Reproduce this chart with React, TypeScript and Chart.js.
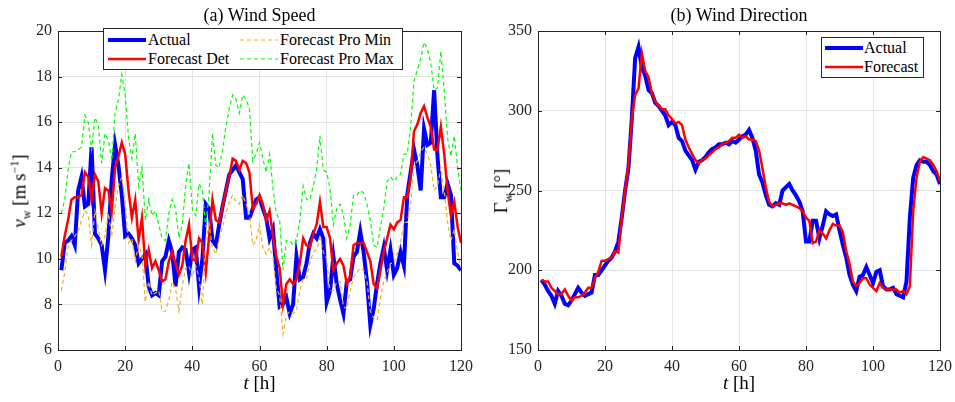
import React, { useEffect, useRef } from "react";
import { Chart, registerables } from "chart.js";

Chart.register(...registerables);

const hours: number[] = Array.from({ length: 120 }, (_, i) => i + 1);

const speedActual = [9.5,10.7,10.8,11.0,10.6,13.0,13.6,12.3,12.4,14.9,
11.1,10.9,10.6,9.5,11.0,13.5,15.0,14.1,12.8,11.0,
11.1,10.9,10.6,9.8,10.0,10.2,8.8,8.4,8.5,8.4,
9.9,10.1,10.8,10.3,8.8,10.3,10.5,10.4,9.4,10.4,
10.5,8.8,10.0,12.4,12.2,10.8,10.6,11.5,12.3,13.0,
13.7,13.9,14.1,13.8,13.5,11.8,11.8,12.2,12.6,12.7,
12.2,11.8,10.9,11.3,9.5,7.9,8.0,8.3,7.6,8.0,
10.1,9.1,9.2,9.8,10.7,11.1,10.9,11.3,10.9,8.1,
8.6,10.1,8.9,8.2,7.6,9.0,9.1,10.1,10.3,11.2,
10.3,9.0,7.1,7.8,8.9,9.8,10.5,9.5,10.4,9.3,
9.6,10.3,9.7,12.8,13.8,14.8,14.1,13.0,15.7,15.0,
15.1,17.4,14.5,12.7,12.7,13.3,12.8,9.8,9.7,9.5];

const speedDet = [10.1,11.0,11.7,12.6,12.7,12.7,12.8,13.8,13.6,12.6,
13.7,13.4,12.0,13.1,13.0,12.1,14.0,14.5,15.1,14.6,
13.0,11.8,12.6,10.8,11.8,9.7,10.4,9.6,9.9,9.5,
9.0,9.1,9.9,10.3,9.8,9.3,9.7,10.8,11.5,10.0,
9.9,10.9,10.7,9.4,11.0,12.6,11.7,11.6,12.3,13.0,
13.6,14.4,14.3,13.9,14.3,14.2,13.8,12.2,12.4,12.8,
12.4,11.7,12.1,11.0,10.1,9.6,8.0,8.9,9.1,8.9,
9.1,9.8,10.9,10.6,10.5,11.1,11.5,12.5,11.4,11.4,
10.9,9.5,9.8,10.0,9.7,8.9,9.2,10.6,10.7,10.7,
10.7,10.3,9.9,8.9,8.7,9.5,10.3,10.9,11.5,11.3,
11.6,11.7,12.7,12.7,13.6,15.6,15.9,16.4,16.7,16.2,
15.8,14.8,14.8,15.8,14.6,13.0,11.9,12.5,11.4,10.7];

const speedProMin = [8.6,9.4,10.5,10.8,11.0,11.2,11.7,12.1,11.9,10.6,
12.1,11.3,10.6,11.0,12.0,11.0,12.3,13.2,13.6,12.5,
10.7,10.9,9.9,10.6,10.2,8.1,9.0,8.4,8.5,8.6,
7.7,7.7,8.2,9.0,8.7,7.7,8.8,9.6,9.7,9.2,
9.7,9.2,8.0,10.8,11.5,10.5,10.2,10.9,11.4,12.0,
12.5,12.8,12.5,12.4,12.8,12.4,12.0,10.6,10.8,11.5,
10.5,10.2,10.5,10.1,8.7,8.4,6.7,7.5,7.7,7.6,
7.7,8.6,9.1,9.1,9.8,10.3,10.4,10.9,10.3,10.0,
8.6,8.6,9.0,9.0,7.9,7.8,8.6,9.2,9.4,9.6,
9.5,9.0,7.7,7.4,7.3,8.3,9.0,9.4,9.8,9.8,
10.2,10.7,11.6,11.6,12.4,14.1,14.3,14.7,14.9,14.6,
14.1,13.0,13.2,14.0,13.0,11.6,10.8,11.3,10.3,9.6];

const speedProMax = [12.0,12.6,13.9,14.7,14.7,14.8,14.9,16.3,16.0,14.8,
16.2,15.9,14.2,15.5,15.2,14.3,16.4,17.0,18.1,17.2,
15.3,14.4,15.5,13.2,14.0,11.7,12.6,11.9,12.1,11.5,
10.9,10.8,12.0,12.6,12.2,10.9,11.5,13.2,14.2,12.2,
11.9,13.3,13.0,11.4,12.9,15.5,14.1,14.0,14.8,15.8,
16.6,17.2,17.0,16.4,17.2,17.0,16.6,14.3,14.6,15.1,
14.4,13.8,14.6,13.1,12.0,11.7,9.5,10.8,10.8,10.6,
10.8,11.7,13.2,12.6,12.6,13.2,13.9,15.4,13.9,13.8,
13.1,11.5,12.2,12.4,11.9,10.9,11.5,12.8,12.8,13.0,
12.9,12.4,11.7,10.6,10.5,11.4,12.2,13.4,13.6,13.4,
13.6,13.7,14.6,14.6,15.8,17.8,18.3,18.8,19.5,19.2,
18.6,17.4,17.5,19.1,17.4,15.3,14.5,15.4,14.0,13.0];

const dirActual = [194,191,187,184,179,187,184,179,178,181,
185,189,186,184,185,186,197,197,200,203,
206,208,212,218,233,250,264,295,333,340,
327,322,313,311,305,303,300,297,291,293,
291,283,281,275,272,269,263,268,269,271,
274,276,277,279,279,280,279,281,280,282,
284,285,288,283,275,260,255,247,241,240,
242,241,250,252,254,250,247,243,237,218,
218,231,231,220,228,237,235,234,235,225,
216,208,197,191,187,196,197,202,197,192,
199,200,190,188,188,189,185,184,183,193,
233,258,266,269,268,268,266,262,260,254];

const dirForecast = [194,193,193,189,187,185,185,188,184,181,
183,183,184,186,189,189,195,199,206,206,
207,208,212,211,233,250,266,295,310,314,
336,325,321,311,306,303,301,301,297,295,
292,293,291,282,277,273,269,267,269,270,
272,274,276,277,279,280,281,283,283,285,
283,284,282,282,281,275,264,252,243,240,
241,242,242,241,242,241,240,239,237,233,
231,217,218,225,223,220,225,229,228,228,
224,212,204,193,190,192,195,195,191,189,
187,192,189,188,188,188,188,186,187,185,
190,237,258,268,271,270,269,266,262,256];

const speedTicks = [6, 8, 10, 12, 14, 16, 18, 20];
const dirTicks = [150, 200, 250, 300, 350];
const timeTicks = [0, 20, 40, 60, 80, 100, 120];

const FONT = "'Liberation Serif', 'DejaVu Serif', serif";
const AXIS = "#262626";
const GRID = "#e3e3e3";

const toXY = (vals: number[]) => vals.map((v, i) => ({ x: hours[i], y: v }));

const framePlugin = {
  id: "frame",
  afterDraw(chart: any) {
    const { ctx, chartArea } = chart;
    const { left, right, top, bottom } = chartArea;
    const xs = chart.scales.x;
    const ys = chart.scales.y;
    ctx.save();
    ctx.strokeStyle = AXIS;
    ctx.lineWidth = 1;
    ctx.strokeRect(Math.round(left) + 0.5, Math.round(top) + 0.5, Math.round(right - left), Math.round(bottom - top));
    ctx.beginPath();
    const tl = 4;
    xs.ticks.forEach((t: any) => {
      const px = Math.round(xs.getPixelForValue(t.value)) + 0.5;
      ctx.moveTo(px, bottom);
      ctx.lineTo(px, bottom - tl);
      ctx.moveTo(px, top);
      ctx.lineTo(px, top + tl);
    });
    ys.ticks.forEach((t: any) => {
      const py = Math.round(ys.getPixelForValue(t.value)) + 0.5;
      ctx.moveTo(left, py);
      ctx.lineTo(left + tl, py);
      ctx.moveTo(right, py);
      ctx.lineTo(right - tl, py);
    });
    ctx.stroke();
    ctx.restore();
  },
};

function makeOptions(ymin: number, ymax: number, ytickVals: number[], padRight: number): any {
  return {
    responsive: false,
    animation: false,
    layout: { padding: { top: 31, right: padRight, left: 0, bottom: 0 } },
    plugins: { legend: { display: false }, tooltip: { enabled: false }, title: { display: false } },
    elements: { point: { radius: 0 }, line: { tension: 0 } },
    scales: {
      x: {
        type: "linear",
        min: 0,
        max: 120,
        afterBuildTicks: (s: any) => { s.ticks = timeTicks.map((v) => ({ value: v })); },
        afterFit: (s: any) => { s.height = 52; s.paddingLeft = 0; s.paddingRight = 0; },
        ticks: { color: AXIS, font: { family: FONT, size: 16 }, padding: 7, maxRotation: 0 },
        grid: { color: GRID, drawTicks: false },
        border: { display: false },
      },
      y: {
        type: "linear",
        min: ymin,
        max: ymax,
        afterBuildTicks: (s: any) => { s.ticks = ytickVals.map((v) => ({ value: v })); },
        afterFit: (s: any) => { s.width = 58; s.paddingTop = 0; s.paddingBottom = 0; },
        ticks: { color: AXIS, font: { family: FONT, size: 16 }, padding: 6 },
        grid: { color: GRID, drawTicks: false },
        border: { display: false },
      },
    },
  };
}

const abs = (x: number, y: number, extra: any = {}): any => ({
  position: "absolute",
  left: x,
  top: y,
  transform: "translate(-50%, -50%)",
  whiteSpace: "nowrap",
  color: "#000",
  ...extra,
});

function Sample({ color, width, dash }: { color: string; width: number; dash?: string }) {
  return (
    <svg width={38} height={8} style={{ display: "block" }}>
      <line x1={0} y1={4} x2={38} y2={4} stroke={color} strokeWidth={width} strokeDasharray={dash} />
    </svg>
  );
}

export default function App() {
  const leftRef = useRef<HTMLCanvasElement>(null);
  const rightRef = useRef<HTMLCanvasElement>(null);

  useEffect(() => {
    let cancelled = false;
    let c1: Chart | null = null;
    let c2: Chart | null = null;
    const build = () => {
      if (cancelled) return;
      c1 = new Chart(leftRef.current as HTMLCanvasElement, {
        type: "line",
        data: {
          datasets: [
            { label: "Actual", data: toXY(speedActual), borderColor: "#0000ff", borderWidth: 4, order: 4 },
            { label: "Forecast Det", data: toXY(speedDet), borderColor: "#ff0000", borderWidth: 2.5, order: 3 },
            { label: "Forecast Pro Min", data: toXY(speedProMin), borderColor: "#edb120", borderWidth: 1.2, borderDash: [4, 3], order: 2 },
            { label: "Forecast Pro Max", data: toXY(speedProMax), borderColor: "#00ff00", borderWidth: 1.2, borderDash: [4, 3], order: 1 },
          ],
        } as any,
        options: makeOptions(6, 20, speedTicks, 16),
        plugins: [framePlugin],
      });
      c2 = new Chart(rightRef.current as HTMLCanvasElement, {
        type: "line",
        data: {
          datasets: [
            { label: "Actual", data: toXY(dirActual), borderColor: "#0000ff", borderWidth: 4, order: 2 },
            { label: "Forecast", data: toXY(dirForecast), borderColor: "#ff0000", borderWidth: 2.5, order: 1 },
          ],
        } as any,
        options: makeOptions(150, 350, dirTicks, 15),
        plugins: [framePlugin],
      });
    };
    const fonts: any = (document as any).fonts;
    if (fonts && fonts.load) {
      fonts.load("16px 'Liberation Serif'").then(build, build);
    } else {
      build();
    }
    return () => {
      cancelled = true;
      if (c1) c1.destroy();
      if (c2) c2.destroy();
    };
  }, []);

  const txt = { fontFamily: FONT, fontSize: 16, lineHeight: "18px" };

  return (
    <div style={{ position: "absolute", left: 0, top: 0, width: 955, height: 402, background: "#fff", fontFamily: FONT, overflow: "hidden" }}>
      <canvas ref={leftRef} width={477} height={402} style={{ position: "absolute", left: 0, top: 0 }} />
      <canvas ref={rightRef} width={475} height={402} style={{ position: "absolute", left: 480, top: 0 }} />

      <div style={abs(259.5, 15, { fontSize: 18 })}>(a) Wind Speed</div>
      <div style={abs(739, 15, { fontSize: 18 })}>(b) Wind Direction</div>

      <div style={abs(259.5, 383, { fontSize: 19 })}><i>t</i> [h]</div>
      <div style={abs(739, 383, { fontSize: 19 })}><i>t</i> [h]</div>

      <div style={abs(21, 191, { fontSize: 19, transform: "translate(-50%, -50%) rotate(-90deg)" })}>
        <i>v</i><sub style={{ fontSize: 12 }}>w</sub> [m&#8201;s<sup style={{ fontSize: 12 }}>−1</sup>]
      </div>
      <div style={abs(503, 191, { fontSize: 19, transform: "translate(-50%, -50%) rotate(-90deg)" })}>
        Γ<sub style={{ fontSize: 12 }}>w</sub> [°]
      </div>

      <div style={{ position: "absolute", left: 103, top: 28, width: 300, height: 42, background: "#fff", border: `1px solid ${AXIS}`, boxSizing: "border-box", ...txt }}>
        <div style={{ position: "absolute", left: 4, top: 7 }}><Sample color="#0000ff" width={4} /></div>
        <div style={{ position: "absolute", left: 44, top: 2 }}>Actual</div>
        <div style={{ position: "absolute", left: 4, top: 26 }}><Sample color="#ff0000" width={2.5} /></div>
        <div style={{ position: "absolute", left: 44, top: 21 }}>Forecast Det</div>
        <div style={{ position: "absolute", left: 136, top: 7 }}><Sample color="#edb120" width={1.2} dash="4 3" /></div>
        <div style={{ position: "absolute", left: 176, top: 2 }}>Forecast Pro Min</div>
        <div style={{ position: "absolute", left: 136, top: 26 }}><Sample color="#00ff00" width={1.2} dash="4 3" /></div>
        <div style={{ position: "absolute", left: 176, top: 21 }}>Forecast Pro Max</div>
      </div>

      <div style={{ position: "absolute", left: 821, top: 37, width: 103, height: 41, background: "#fff", border: `1px solid ${AXIS}`, boxSizing: "border-box", ...txt }}>
        <div style={{ position: "absolute", left: 3, top: 6 }}><Sample color="#0000ff" width={4} /></div>
        <div style={{ position: "absolute", left: 42, top: 1 }}>Actual</div>
        <div style={{ position: "absolute", left: 3, top: 25 }}><Sample color="#ff0000" width={2.5} /></div>
        <div style={{ position: "absolute", left: 42, top: 20 }}>Forecast</div>
      </div>
    </div>
  );
}
